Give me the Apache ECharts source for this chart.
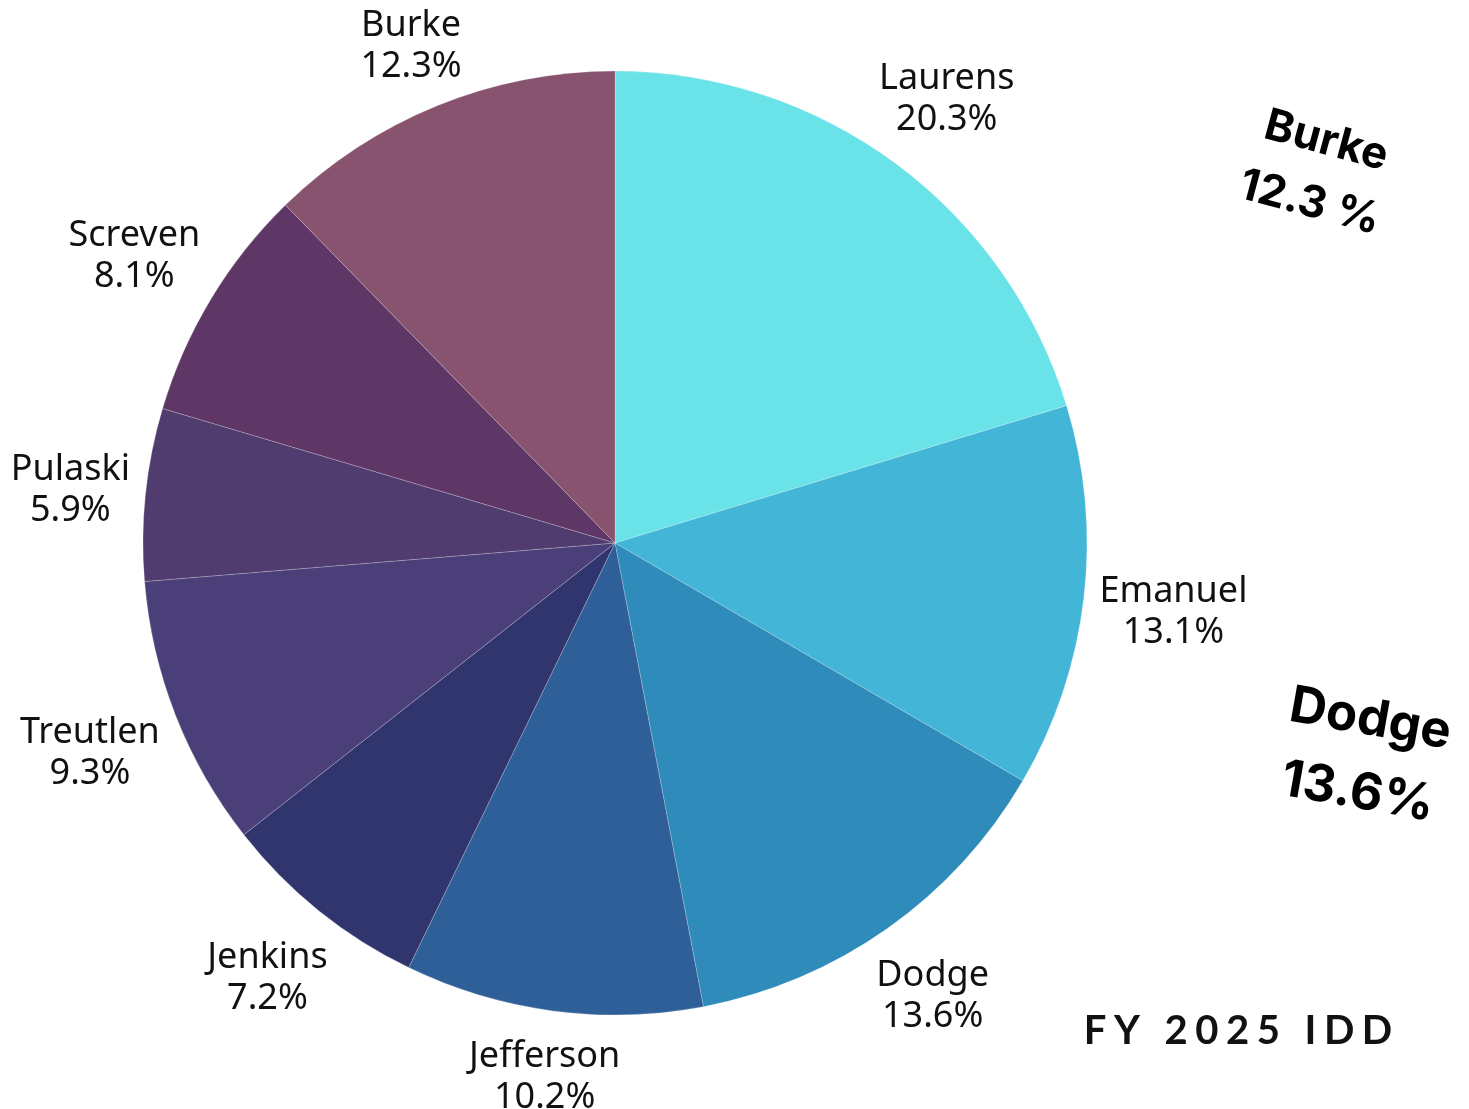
<!DOCTYPE html>
<html>
<head>
<meta charset="utf-8">
<title>FY 2025 IDD</title>
<script src="https://cdn.jsdelivr.net/npm/echarts@6/dist/echarts.min.js"></script>
<style>
  html, body { margin: 0; padding: 0; background: #ffffff; }
  #chart { width: 1469px; height: 1109px; }
</style>
</head>
<body>
<div id="chart"></div>
<script>
// County shares, clockwise from 12 o'clock
const counties = ['Laurens', 'Emanuel', 'Dodge', 'Jefferson', 'Jenkins', 'Treutlen', 'Pulaski', 'Screven', 'Burke'];
const shares = [20.3, 13.1, 13.6, 10.2, 7.2, 9.3, 5.9, 8.1, 12.3];
const sliceColors = ['#6ae3e8', '#43b5d6', '#2e8bba', '#2f5f98', '#31356e', '#4a3f78', '#503c6e', '#5e3766', '#87536f'];

// Callout highlights
const calloutA = { name: 'Burke', value: '12.3 %' };
const calloutB = { name: 'Dodge', value: '13.6%' };
const chartTitle = 'FY 2025 IDD';

const pieData = counties.map((name, i) => ({
  name: name,
  value: shares[i],
  itemStyle: { color: sliceColors[i] }
}));

const labelFont = '"Noto Sans", "IBM Plex Sans", sans-serif';
const boldFont = 'Inter, "Noto Sans", sans-serif';

const center = [615, 543];
const LABEL_GAP = 484; // distance from pie centre to the near edge of each label box
const LABEL_DROP = 4;  // small downward nudge of the label block

const option = {
  backgroundColor: '#ffffff',
  animation: false,
  series: [
    {
      type: 'pie',
      center: center,
      radius: 472,
      startAngle: 90,
      clockwise: true,
      data: pieData,
      label: { show: false },
      labelLine: { show: false },
      itemStyle: { borderColor: 'rgba(255,255,255,0.35)', borderWidth: 0.6 },
      emphasis: { disabled: true }
    },
    {
      // ring that only carries the name / percentage labels around the pie
      type: 'pie',
      center: center,
      radius: [530, 570],
      startAngle: 90,
      clockwise: true,
      silent: true,
      data: counties.map((name, i) => ({ name: name, value: shares[i] })),
      itemStyle: { color: 'rgba(0,0,0,0)' },
      labelLine: { show: false },
      label: {
        show: true,
        position: 'inside',
        formatter: p => p.name + '\n' + p.value.toFixed(1) + '%',
        fontFamily: labelFont,
        fontSize: 36,
        lineHeight: 41,
        color: '#111111',
        align: 'center'
      },
      // push each label box radially so its nearest edge sits a fixed gap off the pie
      labelLayout: function (p) {
        const r = p.labelRect;
        const cx = r.x + r.width / 2;
        const cy = r.y + r.height / 2;
        const vx = cx - center[0];
        const vy = cy - center[1];
        const d = Math.sqrt(vx * vx + vy * vy) || 1;
        const ux = vx / d, uy = vy / d;
        const want = LABEL_GAP + Math.abs(ux) * r.width / 2 + Math.abs(uy) * r.height / 2;
        return { dx: ux * (want - d), dy: uy * (want - d) + LABEL_DROP };
      },
      emphasis: { disabled: true }
    }
  ],
  graphic: [
    {
      type: 'text',
      x: 1318, y: 172,
      rotation: -15 * Math.PI / 180,
      style: {
        text: calloutA.name + '\n' + calloutA.value,
        font: 'bold 44px ' + boldFont,
        lineHeight: 64,
        fill: '#000000',
        align: 'center',
        verticalAlign: 'middle'
      }
    },
    {
      type: 'text',
      x: 1364, y: 756,
      rotation: -10 * Math.PI / 180,
      style: {
        text: calloutB.name + '\n' + calloutB.value,
        font: 'bold 51px ' + boldFont,
        lineHeight: 74,
        fill: '#000000',
        align: 'center',
        verticalAlign: 'middle'
      }
    },
    {
      type: 'text',
      x: 1238, y: 1031,
      style: {
        // wide tracking between letters
        text: chartTitle.split('').join('\u2009\u200a'),
        font: 'bold 40px Lato, "Noto Sans", sans-serif',
        fill: '#111111',
        align: 'center',
        verticalAlign: 'middle'
      }
    }
  ]
};

const chart = echarts.init(document.getElementById('chart'), null, { renderer: 'canvas' });
chart.setOption(option);
</script>
</body>
</html>
